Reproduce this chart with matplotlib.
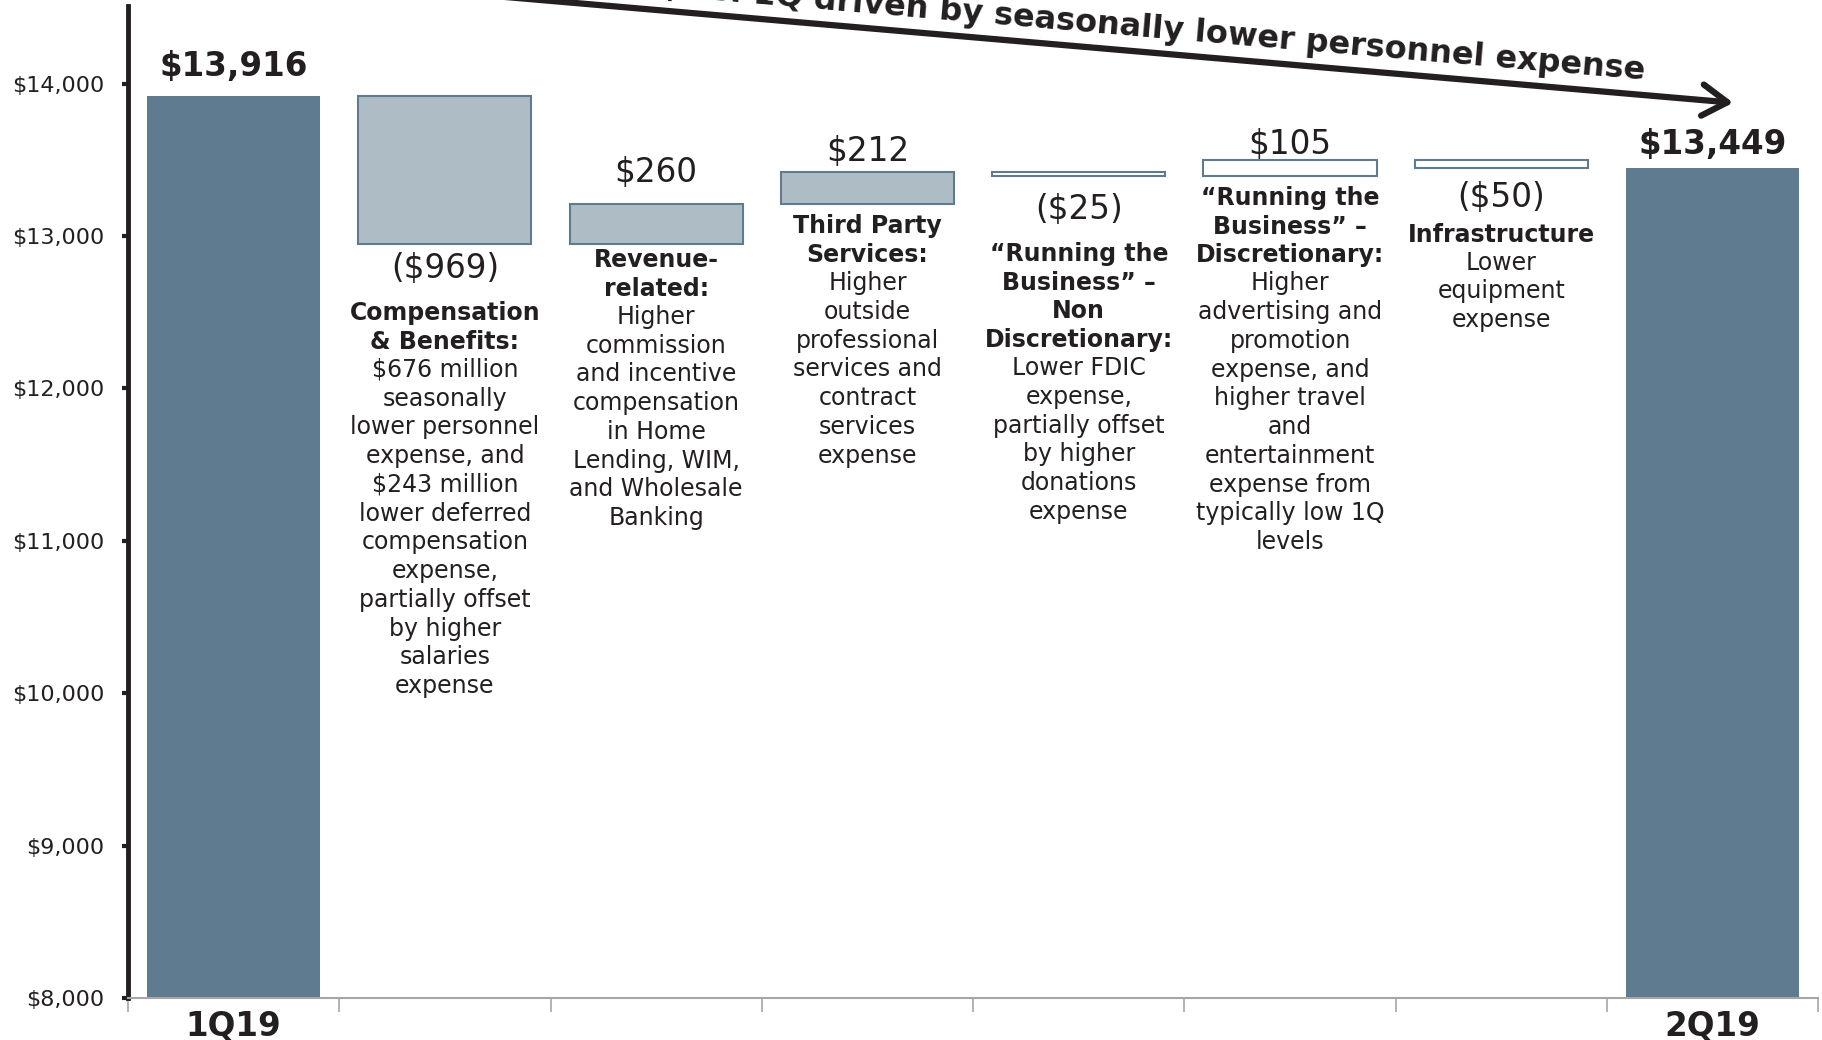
import numpy as np
import matplotlib.pyplot as plt
from matplotlib.patches import FancyArrowPatch

plt.rcParams['font.family'] = ['DejaVu Sans']

categories = ['1Q19', 'Compensation & Benefits', 'Revenue-related', 'Third Party Services',
              'RTB Non Discretionary', 'RTB Discretionary', 'Infrastructure', '2Q19']
start_total = 13916
end_total = 13449
deltas = [-969, 260, 212, -25, 105, -50]
total_labels = ['\\$13,916', '\\$13,449']
delta_labels = ['(\\$969)', '\\$260', '\\$212', '(\\$25)', '\\$105', '(\\$50)']
titles = ['Compensation\n& Benefits:',
          'Revenue-\nrelated:',
          'Third Party\nServices:',
          '\u201cRunning the\nBusiness\u201d \u2013\nNon\nDiscretionary:',
          '\u201cRunning the\nBusiness\u201d \u2013\nDiscretionary:',
          'Infrastructure']
bodies = ['\\$676 million\nseasonally\nlower personnel\nexpense, and\n\\$243 million\nlower deferred\n'
          'compensation\nexpense,\npartially offset\nby higher\nsalaries\nexpense',
          'Higher\ncommission\nand incentive\ncompensation\nin Home\nLending, WIM,\nand Wholesale\nBanking',
          'Higher\noutside\nprofessional\nservices and\ncontract\nservices\nexpense',
          'Lower FDIC\nexpense,\npartially offset\nby higher\ndonations\nexpense',
          'Higher\nadvertising and\npromotion\nexpense, and\nhigher travel\nand\nentertainment\n'
          'expense from\ntypically low 1Q\nlevels',
          'Lower\nequipment\nexpense']
yticks = [8000, 9000, 10000, 11000, 12000, 13000, 14000]
arrow_text = 'Expense down \\$467 million, or 3%, vs. 1Q driven by seasonally lower personnel expense'

DARK = '#5e7b8f'
LIGHT = '#aebcc6'
TXT = '#231f20'

# layout (pixels)
total_gap = [30, 23]
label_gap = [24, 32, 21, 34, 15, 30]
desc_gap = [57, 4, 10, 66, 10, 55]

levels = start_total + np.concatenate([[0], np.cumsum(deltas)])
bottoms = np.minimum(levels[:-1], levels[1:])
tops = np.maximum(levels[:-1], levels[1:])
heights = np.abs(deltas)
fills = [LIGHT, LIGHT, LIGHT, 'white', 'white', 'white']

fig = plt.figure(figsize=(18.22, 10.40), dpi=100)
ax = fig.add_axes([0.0702, 0.0402, 0.9278, 0.9542])

x = np.arange(len(categories))
ax.bar([0, 7], [start_total - 8000, end_total - 8000], bottom=8000, width=0.82, color=DARK)
ax.bar(x[1:7], heights, bottom=bottoms, width=0.82, color=fills, edgecolor=DARK, linewidth=1.5)

for xi, val, lab, g in zip([0, 7], [start_total, end_total], total_labels, total_gap):
    ax.annotate(lab, (xi, val), xytext=(0, g), textcoords='offset pixels',
                ha='center', va='center', fontsize=23.5, fontweight='bold', color=TXT)

for i in range(6):
    xi = i + 1
    if deltas[i] < 0:
        ax.annotate(delta_labels[i], (xi, bottoms[i]), xytext=(0, -label_gap[i]),
                    textcoords='offset pixels', ha='center', va='center', fontsize=23.5, color=TXT)
    else:
        ax.annotate(delta_labels[i], (xi, tops[i]), xytext=(0, label_gap[i]),
                    textcoords='offset pixels', ha='center', va='center', fontsize=23.5, color=TXT)
    t = ax.annotate(titles[i], (xi, bottoms[i]), xytext=(0, -desc_gap[i]),
                    textcoords='offset pixels', ha='center', va='top', fontsize=17,
                    fontweight='bold', color=TXT, linespacing=1.25)
    ax.annotate(bodies[i], (0.5, 0), xycoords=t, xytext=(0, -4),
                textcoords='offset pixels', ha='center', va='top', fontsize=17,
                color=TXT, linespacing=1.25)

ax.set_xlim(-0.5, 7.5)
ax.set_ylim(8000, 14510)
ax.set_yticks(yticks)
ax.set_yticklabels(['\\$' + f'{v:,}' for v in yticks], fontsize=16, color=TXT)
ax.set_xticks(x)
ax.set_xticklabels(['1Q19', '', '', '', '', '', '', '2Q19'], fontsize=23.5, fontweight='bold', color=TXT)
ax.set_xticks(np.arange(-0.5, 8, 1), minor=True)
ax.tick_params(axis='x', which='major', length=0, pad=8)
ax.tick_params(axis='x', which='minor', length=10, width=1.2, color='#a6a6a6')
ax.tick_params(axis='y', length=4, width=3, color=TXT, pad=13)

for s in ['top', 'right']:
    ax.spines[s].set_visible(False)
ax.spines['left'].set_color(TXT)
ax.spines['left'].set_linewidth(3.5)
ax.spines['bottom'].set_color('#a6a6a6')
ax.spines['bottom'].set_linewidth(1.5)

# trend arrow running off the top edge
arrow = FancyArrowPatch((320 / 1822, 1 + 19 / 1040), (1736 / 1822, 1 - 103 / 1040),
                        transform=fig.transFigure, arrowstyle='->,head_length=0.4,head_width=0.25',
                        mutation_scale=45, lw=4.5, color=TXT, clip_on=False)
fig.add_artist(arrow)
fig.text(1644 / 1822, 1 - 80 / 1040, arrow_text, rotation=-4.9, rotation_mode='anchor',
         ha='right', va='baseline', fontsize=23, fontweight='bold', color=TXT)

fig.savefig('out.png', dpi=100)
